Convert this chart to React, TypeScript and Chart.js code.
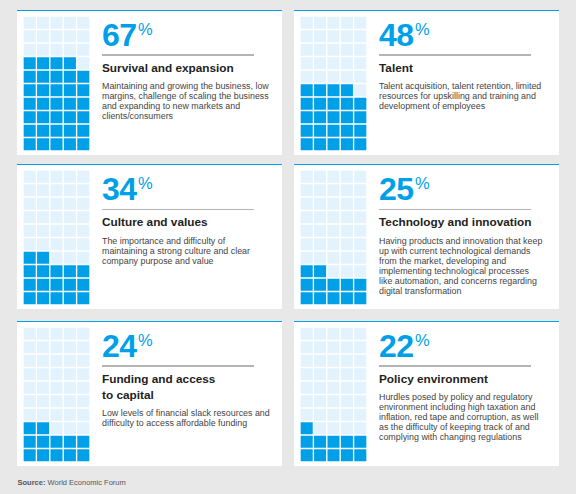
import React, { useEffect, useRef } from "react";
import { Chart, registerables } from "chart.js";

Chart.register(...registerables);

// ---- data ----
const percentages = [67, 48, 34, 25, 24, 22];
const filledCells = [34, 24, 17, 12, 12, 11];
const titles = [
  ["Survival and expansion"],
  ["Talent"],
  ["Culture and values"],
  ["Technology and innovation"],
  ["Funding and access", "to capital"],
  ["Policy environment"],
];
const descriptions = [
  [
    "Maintaining and growing the business, low",
    "margins, challenge of scaling the business",
    "and expanding to new markets and",
    "clients/consumers",
  ],
  [
    "Talent acquisition, talent retention, limited",
    "resources for upskilling and training and",
    "development of employees",
  ],
  [
    "The importance and difficulty of",
    "maintaining a strong culture and clear",
    "company purpose and value",
  ],
  [
    "Having products and innovation that keep",
    "up with current technological demands",
    "from the market, developing and",
    "implementing technological processes",
    "like automation, and concerns regarding",
    "digital transformation",
  ],
  [
    "Low levels of financial slack resources and",
    "difficulty to access affordable funding",
  ],
  [
    "Hurdles posed by policy and regulatory",
    "environment including high taxation and",
    "inflation, red tape and corruption, as well",
    "as the difficulty of keeping track of and",
    "complying with changing regulations",
  ],
];
const gridColumns = ["1", "2", "3", "4", "5"];
const gridRowCount = 10;
const sourceLabel = "Source:";
const sourceText = "World Economic Forum";

// ---- styles ----
const BLUE = "#00a0e9";
const LIGHT = "#e2f3fd";
const BG = "#e8e8e8";
const FONT = "'Liberation Sans', Arial, Helvetica, sans-serif";

function Waffle({ filled }: { filled: number }) {
  const ref = useRef<HTMLCanvasElement>(null);
  useEffect(() => {
    const datasets = Array.from({ length: gridRowCount }, (_, r) => ({
      data: gridColumns.map(() => 1),
      backgroundColor: gridColumns.map((_, c) =>
        r * gridColumns.length + c < filled ? BLUE : LIGHT
      ),
      borderColor: "#ffffff",
      borderWidth: 1,
      borderSkipped: false as const,
      barPercentage: 1,
      categoryPercentage: 1,
    }));
    const chart = new Chart(ref.current!, {
      type: "bar",
      data: { labels: gridColumns, datasets },
      options: {
        animation: false,
        responsive: false,
        events: [],
        layout: { padding: 0 },
        plugins: { legend: { display: false }, tooltip: { enabled: false } },
        scales: {
          x: { display: false, stacked: true },
          y: { display: false, stacked: true, min: 0, max: gridRowCount },
        },
      },
    });
    return () => chart.destroy();
  }, [filled]);
  return (
    <canvas
      ref={ref}
      width={67}
      height={135}
      style={{ position: "absolute", left: 6, top: 5, width: 67, height: 135 }}
    />
  );
}

const panelLefts = [17, 294];
const panelTops = [9.5, 164, 320.5];

function Panel({ i }: { i: number }) {
  const left = panelLefts[i % 2];
  const top = panelTops[Math.floor(i / 2)];
  return (
    <div
      style={{
        position: "absolute",
        left,
        top,
        width: 264.5,
        height: 145,
        background: "#ffffff",
        borderTop: `1.5px solid ${BLUE}`,
        boxSizing: "border-box",
      }}
    >
      <Waffle filled={filledCells[i]} />
      <div style={{ position: "absolute", left: 85, top: 8, width: 170 }}>
        <div
          style={{
            fontSize: 32,
            lineHeight: "32px",
            fontWeight: 700,
            color: BLUE,
            whiteSpace: "nowrap",
            letterSpacing: -0.5,
          }}
        >
          {percentages[i]}
          <span
            style={{
              fontSize: 16.5,
              fontWeight: 400,
              verticalAlign: "top",
              lineHeight: "16px",
              position: "relative",
              top: 2,
              marginLeft: 1.5,
              letterSpacing: 0,
            }}
          >
            %
          </span>
        </div>
        <div style={{ marginTop: 3.8, width: 152, height: 1.5, background: "#b4b4b4" }} />
        <div
          style={{
            marginTop: 5.1,
            fontSize: 11.8,
            lineHeight: "15.7px",
            fontWeight: 700,
            color: "#222222",
            whiteSpace: "nowrap",
          }}
        >
          {titles[i].map((t, k) => (
            <div key={k}>{t}</div>
          ))}
        </div>
        <div
          style={{
            marginTop: 4.7,
            fontSize: 8.9,
            lineHeight: "10px",
            color: "#444444",
            whiteSpace: "nowrap",
          }}
        >
          {descriptions[i].map((t, k) => (
            <div key={k}>{t}</div>
          ))}
        </div>
      </div>
    </div>
  );
}

export default function App() {
  return (
    <div
      style={{
        position: "fixed",
        left: 0,
        top: 0,
        width: 576,
        height: 494,
        background: BG,
        fontFamily: FONT,
        overflow: "hidden",
      }}
    >
      {percentages.map((_, i) => (
        <Panel key={i} i={i} />
      ))}
      <div
        style={{
          position: "absolute",
          left: 17.5,
          top: 477.5,
          fontSize: 7.5,
          lineHeight: "10px",
          color: "#555555",
          whiteSpace: "nowrap",
        }}
      >
        <span style={{ fontWeight: 700 }}>{sourceLabel}</span> {sourceText}
      </div>
    </div>
  );
}
